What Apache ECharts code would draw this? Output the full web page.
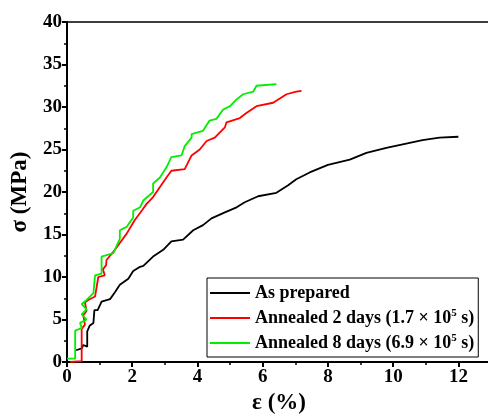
<!DOCTYPE html>
<html>
<head>
<meta charset="utf-8">
<script src="https://cdn.jsdelivr.net/npm/echarts@6/dist/echarts.min.js"></script>
<style>
  html, body { margin: 0; padding: 0; background: #fff; }
  #main { width: 488px; height: 414px; }
</style>
</head>
<body>
<div id="main"></div>
<script>
// 讀圖估計的資料 (strain %, stress MPa)
var asPrepared = [[0.28,1.38],[0.45,1.6],[0.5,2.0],[0.62,1.8],[0.62,3.6],[0.7,4.3],[0.81,4.6],[0.84,6.1],[0.94,6.1],[1.06,7.1],[1.32,7.4],[1.47,8.2],[1.62,9.1],[1.88,9.8],[2.03,10.7],[2.24,11.2],[2.34,11.3],[2.64,12.4],[2.95,13.2],[3.2,14.2],[3.56,14.4],[3.87,15.5],[4.17,16.1],[4.43,16.9],[4.84,17.6],[5.2,18.2],[5.45,18.8],[5.86,19.5],[6.42,19.9],[6.78,20.8],[7.03,21.5],[7.44,22.3],[8.0,23.2],[8.67,23.8],[9.18,24.6],[9.79,25.2],[10.4,25.7],[10.9,26.1],[11.42,26.4],[12.0,26.5]];
var annealed2 = [[0.1,0],[0.45,0.1],[0.45,3.9],[0.55,4.4],[0.5,5.5],[0.6,6.0],[0.55,7.0],[0.65,7.3],[0.86,7.7],[0.96,10.0],[1.16,10.2],[1.1,10.9],[1.2,11.4],[1.21,12.0],[1.47,13.2],[1.62,14.0],[1.83,15.1],[2.08,16.7],[2.29,17.8],[2.44,18.6],[2.64,19.4],[2.85,20.6],[3.05,21.7],[3.2,22.5],[3.61,22.7],[3.82,24.3],[4.07,25.0],[4.28,26.0],[4.53,26.4],[4.84,27.6],[4.89,28.2],[5.3,28.7],[5.5,29.3],[5.81,30.1],[6.32,30.5],[6.73,31.5],[7.03,31.8],[7.19,31.9]];
var annealed8 = [[0,0.4],[0.25,0.4],[0.25,3.7],[0.45,4.0],[0.4,4.6],[0.6,5.0],[0.45,5.6],[0.6,6.2],[0.45,6.8],[0.6,7.3],[0.65,7.3],[0.81,8.1],[0.86,10.2],[1.06,10.4],[1.06,12.4],[1.42,12.8],[1.62,14.5],[1.62,15.5],[1.83,15.9],[2.03,17.0],[2.03,17.8],[2.24,18.2],[2.34,19.0],[2.64,20.0],[2.64,21.0],[2.85,21.7],[3.05,22.9],[3.2,24.1],[3.51,24.3],[3.61,25.4],[3.82,26.4],[3.82,26.8],[4.17,27.2],[4.37,28.4],[4.58,28.6],[4.79,29.7],[5.0,30.1],[5.2,30.9],[5.4,31.5],[5.71,31.8],[5.81,32.5],[6.42,32.7]];

var seriesNames = ['As prepared', 'Annealed 2 days (1.7 × 10^5 s)', 'Annealed 8 days (6.9 × 10^5 s)'];
var seriesColors = ['#000000', '#ff0000', '#00ee00'];
var seriesData = [asPrepared, annealed2, annealed8];

var font = 'Liberation Serif';

var myChart = echarts.init(document.getElementById('main'));
myChart.setOption({
  backgroundColor: '#fff',
  animation: false,
  grid: {
    left: 67, top: 22, right: -3, bottom: 52,
    outerBoundsMode: 'none',
    containLabel: false,
    show: true, borderColor: '#000', borderWidth: 1.5
  },
  legend: {
    orient: 'vertical',
    left: 207, top: 278,
    padding: [6, 4, 5, 3],
    borderColor: '#000', borderWidth: 1,
    backgroundColor: '#fff',
    icon: 'rect',
    itemWidth: 40, itemHeight: 2, itemGap: 6,
    data: seriesNames,
    formatter: function (name) {
      // 上標處理
      var m = name.match(/^(.*10)\^(\d)(.*)$/);
      if (!m) return '{t|' + name + '}';
      return '{t|' + m[1] + '}{s|' + m[2] + '}{t|' + m[3] + '}';
    },
    textStyle: {
      rich: {
        t: { fontFamily: font, fontWeight: 'bold', fontSize: 18, color: '#000', lineHeight: 20 },
        s: { fontFamily: font, fontWeight: 'bold', fontSize: 11, color: '#000', padding: [0, 0, 9, 0] }
      }
    }
  },
  xAxis: {
    type: 'value',
    min: 0, max: 13, interval: 2,
    name: 'ε (%)',
    nameLocation: 'middle',
    nameGap: 30,
    nameTextStyle: { fontFamily: font, fontWeight: 'bold', fontSize: 23, color: '#000' },
    axisLine: { lineStyle: { color: '#000', width: 2 } },
    axisTick: { inside: false, length: 5, lineStyle: { width: 2 } },
    minorTick: { show: true, splitNumber: 2, length: 3, lineStyle: { color: '#000', width: 1.5 } },
    splitLine: { show: false },
    axisLabel: {
      fontFamily: font, fontWeight: 'bold', fontSize: 19, color: '#000', margin: 6,
      formatter: function (v) { return v > 12 ? '' : v; }
    }
  },
  yAxis: {
    type: 'value',
    min: 0, max: 40, interval: 5,
    name: 'σ (MPa)',
    nameLocation: 'middle',
    nameGap: 35,
    nameTextStyle: { fontFamily: font, fontWeight: 'bold', fontSize: 23, color: '#000' },
    axisLine: { lineStyle: { color: '#000', width: 2 } },
    axisTick: { inside: false, length: 5, lineStyle: { width: 2 } },
    minorTick: { show: true, splitNumber: 2, length: 3, lineStyle: { color: '#000', width: 1.5 } },
    splitLine: { show: false },
    axisLabel: { fontFamily: font, fontWeight: 'bold', fontSize: 19, color: '#000', margin: 5 }
  },
  series: seriesNames.map(function (n, i) {
    return {
      name: n,
      type: 'line',
      data: seriesData[i],
      symbol: 'none',
      lineStyle: { color: seriesColors[i], width: 1.8 },
      itemStyle: { color: seriesColors[i] }
    };
  })
});
</script>
</body>
</html>
